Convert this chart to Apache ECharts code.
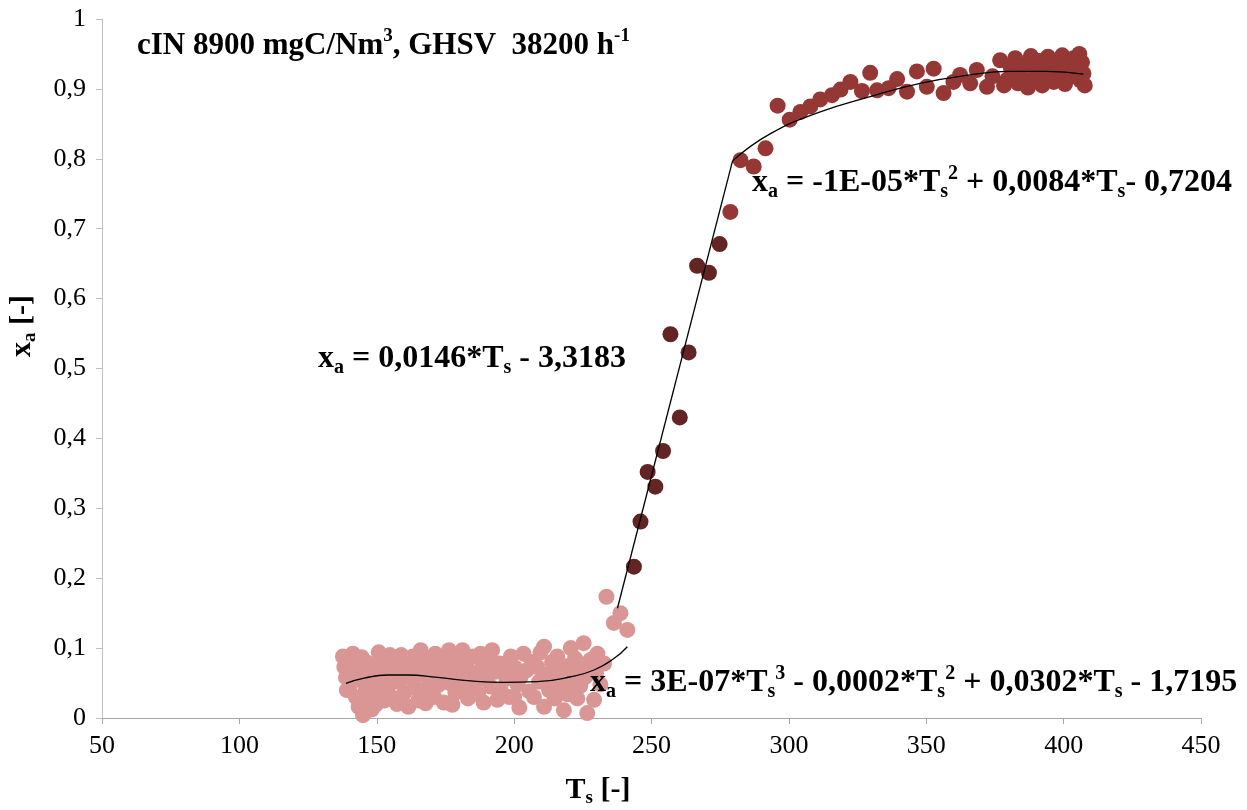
<!DOCTYPE html>
<html>
<head>
<meta charset="utf-8">
<title>Conversion vs temperature</title>
<script src="https://cdn.jsdelivr.net/npm/echarts@6/dist/echarts.min.js"></script>
<style>
  html, body { margin: 0; padding: 0; background: #ffffff; }
  #chart { width: 1247px; height: 810px; }
</style>
</head>
<body>
<div id="chart"></div>
<script>
// Measured conversion x_a against temperature T_s, split by regime
const lowRegime = [
  [137.7,0.088],[138.2,0.073],[138.8,0.058],[139.1,0.040],[139.8,0.083],[140.3,0.048],[141.3,0.092],[141.9,0.066],
  [142.4,0.030],[142.9,0.078],[143.4,0.016],[144.0,0.055],[144.5,0.087],[145.0,0.004],[145.5,0.070],[146.0,0.042],
  [146.5,0.079],[147.0,0.027],[147.6,0.060],[148.1,0.012],[148.6,0.050],[149.6,0.019],[150.1,0.067],[150.7,0.094],
  [151.2,0.038],[151.7,0.080],[152.2,0.058],[152.7,0.025],[153.8,0.073],[154.3,0.046],[154.8,0.090],[155.3,0.030],
  [155.8,0.062],[156.9,0.083],[157.4,0.020],[157.9,0.052],[158.9,0.090],[159.4,0.068],[160.0,0.036],[161.0,0.078],
  [161.5,0.016],[162.0,0.058],[163.1,0.088],[163.6,0.044],[164.1,0.071],[165.1,0.025],[166.0,0.097],[166.2,0.062],
  [167.2,0.040],[167.8,0.021],[168.2,0.082],[169.3,0.055],[170.2,0.069],[170.8,0.030],[171.3,0.092],[172.4,0.047],
  [173.4,0.076],[173.9,0.060],[174.4,0.022],[175.5,0.086],[176.3,0.097],[176.5,0.050],[177.5,0.019],[178.1,0.070],
  [178.6,0.036],[179.6,0.083],[180.7,0.058],[181.2,0.097],[181.7,0.044],[182.7,0.075],[183.2,0.028],[183.8,0.063],
  [184.8,0.088],[185.8,0.050],[186.7,0.064],[186.9,0.035],[187.8,0.092],[188.4,0.072],[188.9,0.022],[190.0,0.055],
  [191.0,0.082],[191.4,0.045],[192.0,0.097],[193.1,0.066],[193.9,0.026],[194.6,0.078],[195.1,0.040],[196.2,0.069],
  [197.2,0.056],[198.2,0.030],[198.8,0.088],[200.0,0.030],[200.3,0.072],[201.3,0.048],[201.9,0.015],[202.4,0.059],
  [203.4,0.092],[204.5,0.068],[205.5,0.038],[206.5,0.080],[207.2,0.030],[208.4,0.073],[209.1,0.052],[209.6,0.094],
  [210.9,0.016],[210.9,0.102],[211.7,0.062],[212.7,0.040],[213.2,0.054],[213.8,0.080],[214.8,0.028],[215.7,0.088],
  [216.3,0.066],[216.9,0.045],[218.1,0.011],[218.9,0.074],[219.4,0.034],[220.6,0.050],[220.6,0.100],[221.5,0.062],
  [222.2,0.085],[223.0,0.028],[223.6,0.070],[224.1,0.046],[225.3,0.107],[225.7,0.058],[226.6,0.007],[227.2,0.075],
  [227.8,0.083],[229.1,0.026],[229.8,0.064],[230.3,0.092],[231.4,0.048],[232.7,0.078],
  [233.6,0.1735],[236.3,0.136],[238.7,0.150],[241.2,0.126]
];
const ignitionRegime = [
  [243.6,0.2165],[246.0,0.281],[248.6,0.352],[251.4,0.331],[254.2,0.382],[256.9,0.549],
  [260.3,0.430],[263.5,0.523],[266.6,0.647],[270.9,0.637],[274.8,0.678]
];
const highRegime = [
  [278.7,0.724],[282.4,0.798],[287.2,0.789],[291.5,0.815],[295.9,0.876],[300.3,0.856],[304.2,0.867],[307.8,0.875],
  [311.4,0.885],[315.7,0.891],[318.8,0.899],[322.4,0.910],[326.6,0.897],[329.6,0.923],[332.1,0.898],[336.3,0.901],
  [339.4,0.914],[343.0,0.896],[346.6,0.925],[350.2,0.903],[352.7,0.929],[356.3,0.894],[359.9,0.910],[362.3,0.920],
  [366.0,0.908],[368.4,0.927],[372.1,0.903],[374.1,0.918],[376.9,0.941],[378.3,0.905],[379.4,0.913],[380.8,0.930],
  [382.4,0.944],[383.4,0.908],[384.5,0.921],[386.0,0.935],[387.0,0.902],[388.1,0.947],[389.1,0.915],[390.2,0.928],
  [391.2,0.940],[392.2,0.905],[393.3,0.920],[394.3,0.946],[395.3,0.932],[396.4,0.910],[397.4,0.940],[398.4,0.922],
  [399.5,0.948],[400.5,0.907],[401.5,0.935],[402.6,0.918],[403.6,0.944],[404.6,0.928],[405.7,0.950],[406.2,0.912],
  [406.7,0.938],[407.2,0.922],[407.7,0.905]
];

// Fitted trend curves, sampled along each regime
const lowTrend = [
  [138.8,0.0496],[145.4,0.057],[153.9,0.0615],[161.2,0.0615],[172.1,0.058],[184.2,0.053],
  [196.3,0.051],[208.4,0.052],[220.6,0.059],[229.1,0.0687],[236.3,0.085],[241.2,0.102]
];
const ignitionTrend = [[237.6,0.157],[279.5,0.797]];
const highTrend = [
  [279.5,0.797],[293.3,0.836],[311.4,0.867],[329.6,0.889],[347.8,0.908],[366.0,0.920],
  [380.5,0.925],[393.9,0.925],[407.2,0.921]
];

const xTicks = { min: 50, max: 450, interval: 50 };
const yTicks = { min: 0, max: 1, interval: 0.1 };

const FONT = 'Liberation Serif';

function richSet(size) {
  const small = Math.round(size * 0.62);
  return {
    b:  { fontFamily: FONT, fontWeight: 'bold', fontSize: size, lineHeight: size + 6, color: '#000' },
    sb: { fontFamily: FONT, fontWeight: 'bold', fontSize: small, lineHeight: small, verticalAlign: 'bottom', color: '#000' },
    sp: { fontFamily: FONT, fontWeight: 'bold', fontSize: small, lineHeight: small, verticalAlign: 'top', color: '#000' }
  };
}

function eqText(left, top, text) {
  return { type: 'text', left: left, top: top, z: 100, style: { text: text, rich: richSet(32) } };
}

const chart = echarts.init(document.getElementById('chart'), null, { renderer: 'canvas' });

chart.setOption({
  backgroundColor: '#ffffff',
  animation: false,
  grid: { left: 102, right: 46, top: 19, bottom: 92, containLabel: false },
  xAxis: {
    type: 'value',
    min: xTicks.min, max: xTicks.max, interval: xTicks.interval,
    axisLine: { show: true, lineStyle: { color: '#A6A6A6', width: 1 } },
    axisTick: { show: true, inside: false, length: 6, lineStyle: { color: '#A6A6A6' } },
    axisLabel: { fontFamily: FONT, fontSize: 26, color: '#000', margin: 15 },
    splitLine: { show: false }
  },
  yAxis: {
    type: 'value',
    min: yTicks.min, max: yTicks.max, interval: yTicks.interval,
    axisLine: { show: true, lineStyle: { color: '#BFBFBF', width: 1 } },
    axisTick: { show: true, inside: false, length: 6, lineStyle: { color: '#BFBFBF' } },
    axisLabel: {
      fontFamily: FONT, fontSize: 26, color: '#000', margin: 16,
      formatter: function (v) {
        if (Math.abs(v) < 1e-9) return '0';
        if (Math.abs(v - 1) < 1e-9) return '1';
        return v.toFixed(1).replace('.', ',');
      }
    },
    splitLine: { show: false }
  },
  series: [
    { type: 'scatter', data: lowRegime, symbolSize: 16, itemStyle: { color: '#D99694', opacity: 1 } },
    { type: 'scatter', data: ignitionRegime, symbolSize: 16, itemStyle: { color: '#632523', opacity: 1 } },
    { type: 'scatter', data: highRegime, symbolSize: 16, itemStyle: { color: '#953735', opacity: 1 } },
    { type: 'line', data: lowTrend, smooth: true, showSymbol: false, lineStyle: { color: '#000', width: 1.3 }, z: 5 },
    { type: 'line', data: ignitionTrend, showSymbol: false, lineStyle: { color: '#000', width: 1.3 }, z: 5 },
    { type: 'line', data: highTrend, smooth: true, showSymbol: false, lineStyle: { color: '#000', width: 1.3 }, z: 5 }
  ],
  graphic: [
    {
      type: 'text', left: 137, top: 27, z: 100,
      style: {
        text: '{b|cIN 8900 mgC/Nm}{sp|3}{b|, GHSV  38200 h}{sp|-1}',
        rich: richSet(31)
      }
    },
    eqText(318, 343, '{b|x}{sb|a}{b| = 0,0146*T}{sb|s}{b| - 3,3183}'),
    eqText(752, 164, '{b|x}{sb|a}{b| = -1E-05*T}{sb|s}{sp|2}{b| + 0,0084*T}{sb|s}{b|- 0,7204}'),
    eqText(590, 664, '{b|x}{sb|a}{b| = 3E-07*T}{sb|s}{sp|3}{b| - 0,0002*T}{sb|s}{sp|2}{b| + 0,0302*T}{sb|s}{b| - 1,7195}'),
    // axis titles
    {
      type: 'text', x: 598, y: 790, z: 100,
      style: { text: '{b|T}{sb|s}{b| [-]}', rich: richSet(30), align: 'center', verticalAlign: 'middle' }
    },
    {
      type: 'text', x: 22, y: 326, rotation: Math.PI / 2, z: 100,
      style: { text: '{b|x}{sb|a}{b| [-]}', rich: richSet(30), align: 'center', verticalAlign: 'middle' }
    }
  ]
});
</script>
</body>
</html>
